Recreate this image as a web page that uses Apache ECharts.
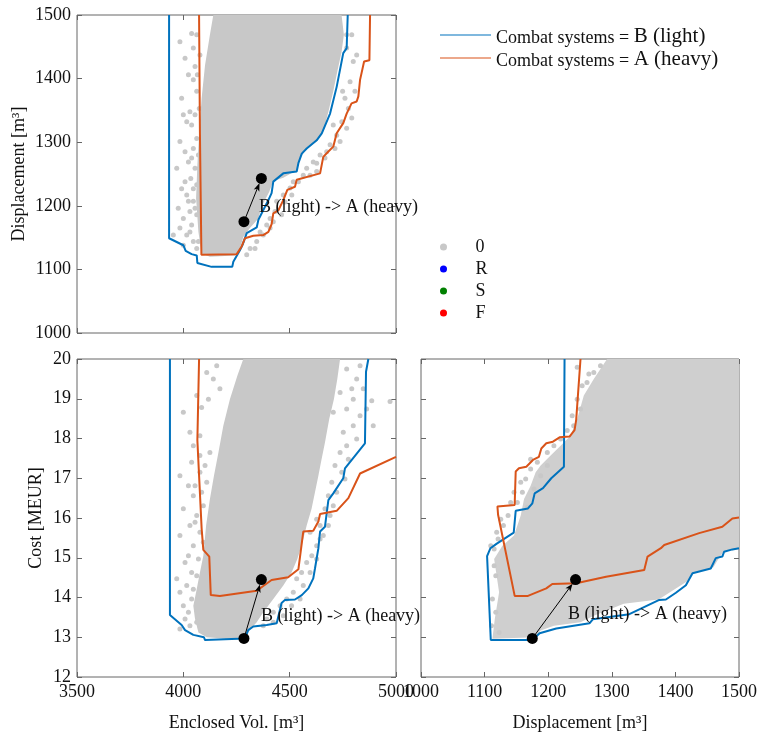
<!DOCTYPE html>
<html>
<head>
<meta charset="utf-8">
<script src="https://cdn.jsdelivr.net/npm/echarts@6/dist/echarts.min.js"></script>
<style>
  html, body { margin: 0; padding: 0; background: #fff; }
  #chart { width: 760px; height: 734px; }
</style>
</head>
<body>
<div id="chart"></div>
<script>
// boundary curves
// top-left: Enclosed Vol. vs Displacement
const blueTL = [[3933,1500],[3933,1149],[4000,1138],[4011,1129],[4039,1124],[4063,1122],[4066,1110],[4133,1104],[4230,1104],[4235,1112],[4266,1130],[4279,1139],[4298,1157],[4345,1166],[4353,1178],[4400,1209],[4415,1220],[4423,1238],[4470,1251],[4533,1254],[4541,1267],[4557,1282],[4580,1290],[4627,1303],[4651,1314],[4690,1345],[4721,1387],[4752,1440],[4768,1448],[4773,1500]];
const orangeTL = [[4074,1500],[4078,1314],[4085,1123],[4251,1124],[4274,1136],[4290,1149],[4329,1153],[4376,1154],[4400,1159],[4415,1171],[4423,1188],[4447,1193],[4470,1209],[4489,1225],[4525,1230],[4533,1241],[4643,1251],[4658,1277],[4681,1285],[4705,1293],[4721,1314],[4752,1330],[4768,1345],[4791,1361],[4815,1364],[4823,1372],[4831,1398],[4850,1427],[4875,1429],[4878,1500]];
// bottom-left: Enclosed Vol. vs Cost
const blueBL = [[3937,20],[3937,13.56],[3992,13.31],[4008,13.18],[4047,13.06],[4097,13.0],[4102,12.93],[4290,12.97],[4305,13.18],[4329,13.27],[4392,13.31],[4439,13.35],[4462,13.86],[4478,13.94],[4525,13.95],[4557,14.06],[4588,14.23],[4611,14.48],[4619,14.73],[4635,15.24],[4643,15.66],[4666,15.78],[4682,16.45],[4705,16.62],[4752,17.0],[4760,17.25],[4854,17.88],[4859,19.68],[4870,20]];
const orangeBL = [[4074,20],[4066,17.96],[4086,15.74],[4094,15.2],[4122,15.03],[4129,14.06],[4172,14.04],[4345,14.17],[4415,14.44],[4493,14.51],[4541,14.71],[4564,15.66],[4611,15.68],[4635,15.91],[4643,16.1],[4721,16.18],[4776,16.5],[4831,17.12],[5000,17.54]];
// bottom-right: Displacement vs Cost
const blueBR = [[1225.7,20],[1224.7,17.29],[1204.8,17.0],[1191.8,16.75],[1178.7,16.62],[1175.1,16.37],[1168.2,16.24],[1148.9,16.18],[1145.8,15.63],[1118.6,15.35],[1109.2,15.24],[1103.9,15.04],[1109.7,12.93],[1175.1,12.93],[1186.5,13.1],[1212.7,13.22],[1264.9,13.35],[1270.1,13.45],[1327.6,13.58],[1374.6,13.94],[1385.1,13.95],[1400.8,14.12],[1416.5,14.31],[1426.9,14.61],[1455.6,14.73],[1463.5,14.99],[1473.8,15.03],[1476.5,15.15],[1489.6,15.21],[1500,15.24]];
const orangeBR = [[1250.8,20],[1244,18.47],[1241.4,18.21],[1233.5,18.05],[1217.9,18.03],[1207.4,17.92],[1197,17.88],[1189.2,17.75],[1185.4,17.54],[1176,17.46],[1165.6,17.29],[1154,17.25],[1148.9,17.17],[1147.3,16.33],[1120.2,16.29],[1121.2,16.08],[1147.3,14.04],[1168.2,14.04],[1197,14.23],[1206.4,14.34],[1244,14.36],[1291,14.52],[1351,14.69],[1356.2,15.03],[1377.2,15.24],[1382.4,15.32],[1437.3,15.62],[1473.8,15.78],[1489.6,15.99],[1500,16.01]];

// outline of the dense gray cloud in each panel
const cloudTL = [[4141,1500],[4744,1500],[4755,1469],[4744,1442],[4724,1411],[4705,1380],[4682,1348],[4658,1317],[4627,1301],[4580,1290],[4549,1275],[4533,1256],[4470,1244],[4423,1239],[4404,1222],[4368,1199],[4353,1180],[4313,1165],[4282,1151],[4266,1133],[4243,1122],[4125,1120],[4086,1125],[4071,1159],[4060,1212],[4066,1264],[4075,1317],[4086,1369],[4102,1421],[4125,1469]];
const cloudBL = [[4282,20],[4737,20],[4724,19.5],[4708,18.99],[4686,18.49],[4666,17.9],[4650,17.48],[4635,17.06],[4619,16.65],[4603,16.23],[4580,15.81],[4556,15.3],[4536,14.97],[4509,14.63],[4470,14.3],[4423,13.96],[4376,13.63],[4345,13.38],[4313,13.19],[4290,13.0],[4204,12.96],[4110,13.0],[4071,13.12],[4055,13.46],[4047,13.79],[4060,14.13],[4078,14.63],[4094,15.05],[4107,15.81],[4125,16.48],[4144,17.06],[4165,17.65],[4188,18.32],[4219,18.99],[4254,19.58]];
const cloudBR = [[1292.6,20],[1500,20],[1500,15.22],[1475.5,15.15],[1467.6,14.97],[1459.8,14.76],[1428.5,14.63],[1418,14.4],[1373.6,13.95],[1318.7,13.84],[1271.7,13.54],[1250.8,13.38],[1209,13.29],[1188.1,13.17],[1180.3,13.0],[1112.3,12.96],[1116,13.46],[1122.8,14.13],[1115,14.97],[1128,15.3],[1146.3,15.56],[1156.8,16.06],[1162,16.48],[1172.4,16.81],[1180.3,17.15],[1188.1,17.32],[1203.8,17.57],[1219.5,17.82],[1235.1,18.07],[1245.6,18.49],[1256,19.08],[1271.7,19.5]];

// loose gray points outside the dense cloud
const outTL = [[4039,1471],[4055,1419],[4047,1398],[4063,1380],[4031,1348],[4055,1343],[4039,1327],[4063,1306],[4047,1290],[4024,1269],[4055,1259],[4035,1243],[4063,1233],[4016,1217],[4047,1207],[4031,1191],[4063,1186],[4000,1180],[4039,1170],[4016,1154],[4047,1144],[4063,1133],[3984,1165],[3969,1259],[4008,1238],[4071,1280],[4075,1353],[4066,1406],[4078,1437],
  [3984,1458],[4008,1432],[4024,1406],[3992,1369],[4016,1332],[3984,1301],[4008,1285],[4039,1275],[3992,1227],[4024,1207],[3976,1196],[4055,1196],[4031,1159],[4000,1138],[4071,1144],[3953,1154],[4078,1207],[4047,1227],[4075,1259],[4000,1343],[4063,1469],[4047,1448],
  [4768,1448],[4799,1427],[4784,1395],[4760,1369],[4776,1353],[4745,1332],[4721,1311],[4690,1296],[4643,1280],[4611,1269],[4580,1259],[4564,1248],[4517,1238],[4502,1228],[4470,1217],[4439,1207],[4431,1191],[4408,1180],[4392,1170],[4361,1159],[4345,1144],[4314,1133],[4768,1469],[4749,1380],[4705,1327],[4674,1285],[4627,1267],
  [4792,1469],[4815,1437],[4807,1380],[4792,1338],[4768,1322],[4737,1301],[4713,1290],[4666,1275],[4627,1254],[4596,1248],[4541,1238],[4510,1217],[4478,1206],[4462,1186],[4423,1175],[4408,1165],[4376,1154],[4337,1133],[4298,1123]];
const outBL = [[4157,19.83],[4141,19.5],[4118,18.99],[4086,18.78],[4172,19.25],[4031,18.16],[4078,18.07],[4125,17.65],[4039,17.4],[4078,17.15],[4110,16.9],[4047,16.56],[4094,16.31],[4063,16.06],[4031,15.81],[4078,15.64],[4047,15.3],[4024,15.05],[4071,14.97],[4039,14.63],[3969,14.47],[4016,14.3],[4047,14.21],[4000,13.79],[4008,13.46],[4031,13.29],[4078,17.57],[4055,16.81],[4102,17.32],
  [4110,19.66],[4063,19.08],[4000,18.66],[4047,17.82],[3984,17.06],[4024,16.81],[4086,16.65],[4000,16.23],[4055,15.89],[3984,15.56],[4094,15.39],[4008,14.88],[4063,14.55],[3984,14.13],[4039,13.96],[4024,13.63],[4063,13.38],[3984,13.21],
  [4768,19.75],[4815,19.5],[4846,19.25],[4799,18.99],[4886,18.95],[4768,18.74],[4831,18.57],[4799,18.32],[4752,18.16],[4768,17.82],[4737,17.65],[4713,17.32],[4745,17.15],[4698,16.9],[4721,16.65],[4682,16.56],[4666,16.23],[4690,16.06],[4643,15.81],[4658,15.56],[4627,15.3],[4604,15.05],[4580,14.88],[4556,14.63],[4533,14.47],[4517,14.13],[4486,13.96],[4455,13.79],[4423,13.63],[4392,13.46],[4596,15.64],[4627,15.97],[4705,18.66],[4737,19.16],[4972,18.93],
  [4831,19.83],[4792,19.25],[4862,18.74],[4815,17.99],[4776,17.48],[4760,16.98],[4705,16.31],[4682,15.81],[4643,15.47],[4627,14.97],[4596,14.63],[4564,14.3],[4549,13.96],[4509,13.79],[4470,13.54],[4423,13.38],[4376,13.29],[4893,18.32]];
const outBR = [[1263.9,19.62],[1253.4,19.33],[1245.6,18.99],[1237.7,18.57],[1229.9,18.2],[1209,17.82],[1198.6,17.65],[1182.9,17.4],[1172.4,17.23],[1164.6,16.98],[1159.4,16.65],[1151.5,16.39],[1136.9,16.06],[1129.6,15.81],[1121.2,15.47],[1115,15.22],[1117.6,14.55],[1112.3,13.96],[1110.8,13.29],[1198.6,17.32],[1188.1,17.06],[1177.7,16.73],[1167.2,16.27],[1245.6,19.79],[1282.2,19.83],
  [1271.7,19.66],[1261,19.41],[1250.8,18.74],[1240,18.32],[1219.5,17.99],[1172.4,17.48],[1156.8,16.9],[1146.3,16.65],[1141,16.39],[1125.4,15.97],[1119,15.64],[1109.7,15.3],[1115,14.8],[1117.6,13.63],[1122.8,13.12]];

// the B (light) -> A (heavy) design pair
const pairTL = [[4285,1175],[4367,1243]];
const pairBL = [[4285,12.97],[4367,14.45]];
const pairBR = [[1175,12.97],[1243,14.45]];

const volTicks = { min: 3500, max: 5000, interval: 500 };
const dispTicks = { min: 1000, max: 1500, interval: 100 };
const costTicks = { min: 12, max: 20, interval: 1 };

const BLUE = '#0072BD';
const ORANGE = '#D95319';
const GRAY = '#c8c8c8';
const FRAME = '#666';
const FONT = 'Liberation Serif';

const chart = echarts.init(document.getElementById('chart'));

function axis(ticks, gridIndex, position, showLabel, name, nameGap) {
  return {
    type: 'value', gridIndex: gridIndex, position: position,
    min: ticks.min, max: ticks.max, interval: ticks.interval,
    splitLine: { show: false },
    axisLine: { show: false },
    axisTick: { show: true, inside: true, length: 5, lineStyle: { color: FRAME } },
    axisLabel: {
      show: showLabel, color: '#111', fontSize: 18, fontFamily: FONT, margin: 6,
      showMinLabel: true, showMaxLabel: true, hideOverlap: false,
      formatter: function (v) { return String(v); }
    },
    name: name || '', nameLocation: 'middle', nameGap: nameGap || 0,
    nameTextStyle: { color: '#111', fontSize: 18, fontFamily: FONT }
  };
}

function cloud(pts, i, fill) {
  return {
    type: 'custom', name: 'cloud', xAxisIndex: i, yAxisIndex: i, data: pts, z: 1, silent: true, clip: true,
    renderItem: function (params, api) {
      if (params.dataIndex !== 0) return null;
      return {
        type: 'polygon',
        shape: { points: pts.map(function (p) { return api.coord(p); }) },
        style: { fill: fill }
      };
    }
  };
}

function loose(pts, i) {
  return { type: 'scatter', name: '0', xAxisIndex: i, yAxisIndex: i, data: pts, symbolSize: 5, itemStyle: { color: GRAY, opacity: 1 }, z: 2, silent: true };
}

function edge(name, pts, color, i) {
  return { type: 'line', name: name, xAxisIndex: i, yAxisIndex: i, data: pts, symbol: 'none', lineStyle: { color: color, width: 2 }, itemStyle: { color: color }, z: 3, silent: true };
}

// thin arrow B -> A; the head stops at the rim of the A marker
function arrow(pts, i) {
  return {
    type: 'custom', name: 'arrow', xAxisIndex: i, yAxisIndex: i, data: pts, z: 4, silent: true,
    renderItem: function (params, api) {
      if (params.dataIndex !== 1) return null;
      const p0 = api.coord(pts[0]);
      const p1 = api.coord(pts[1]);
      const dx = p1[0] - p0[0], dy = p1[1] - p0[1];
      const len = Math.sqrt(dx * dx + dy * dy);
      const ux = dx / len, uy = dy / len, nx = -uy, ny = ux;
      const tip = [p1[0] - ux * 5, p1[1] - uy * 5];
      const back = [tip[0] - ux * 8, tip[1] - uy * 8];
      return {
        type: 'group',
        children: [
          { type: 'line', shape: { x1: p0[0], y1: p0[1], x2: tip[0] - ux * 3, y2: tip[1] - uy * 3 }, style: { stroke: '#000', lineWidth: 1 } },
          { type: 'polygon', shape: { points: [tip, [back[0] + nx * 3, back[1] + ny * 3], [back[0] + ux * 2, back[1] + uy * 2], [back[0] - nx * 3, back[1] - ny * 3]] }, style: { fill: '#000' } }
        ]
      };
    }
  };
}

function pair(pts, i) {
  return { type: 'scatter', name: 'pair', xAxisIndex: i, yAxisIndex: i, data: pts, symbolSize: 11, itemStyle: { color: '#000', opacity: 1 }, z: 5, silent: true };
}

const legendRich = {
  a: { fontSize: 18, fontFamily: FONT, color: '#111', verticalAlign: 'bottom', lineHeight: 24 },
  b: { fontSize: 21, fontFamily: FONT, color: '#111', verticalAlign: 'bottom', lineHeight: 24 }
};

const option = {
  animation: false,
  textStyle: { fontFamily: FONT },
  grid: [
    { left: 77, top: 15, width: 319, height: 318, show: true, borderColor: FRAME, borderWidth: 1 },
    { left: 77, top: 359, width: 319, height: 318, show: true, borderColor: FRAME, borderWidth: 1 },
    { left: 421, top: 359, width: 319, height: 318, show: true, borderColor: FRAME, borderWidth: 1 }
  ],
  xAxis: [
    axis(volTicks, 0, 'bottom', false),
    axis(volTicks, 1, 'bottom', true, 'Enclosed Vol. [m³]', 37),
    axis(dispTicks, 2, 'bottom', true, 'Displacement [m³]', 37),
    axis(volTicks, 0, 'top', false),
    axis(volTicks, 1, 'top', false),
    axis(dispTicks, 2, 'top', false)
  ],
  yAxis: [
    axis(dispTicks, 0, 'left', true, 'Displacement [m³]', 49),
    axis(costTicks, 1, 'left', true, 'Cost [MEUR]', 32),
    axis(costTicks, 2, 'left', false),
    axis(dispTicks, 0, 'right', false),
    axis(costTicks, 1, 'right', false),
    axis(costTicks, 2, 'right', false)
  ],
  legend: [
    {
      data: ['B'], left: 440, top: 26, padding: 0, icon: 'rect', itemWidth: 51, itemHeight: 1,
      formatter: function () { return '{a|Combat systems = }{b|B (light)}'; },
      textStyle: { rich: legendRich }
    },
    {
      data: ['A'], left: 440, top: 49, padding: 0, icon: 'rect', itemWidth: 51, itemHeight: 1,
      formatter: function () { return '{a|Combat systems = }{b|A (heavy)}'; },
      textStyle: { rich: legendRich }
    },
    {
      data: ['0', 'R', 'S', 'F'], orient: 'vertical', left: 440, top: 238, padding: 0, icon: 'circle',
      itemWidth: 54, itemHeight: 7, itemGap: 4,
      textStyle: { fontSize: 18, lineHeight: 18, fontFamily: FONT, color: '#111' }
    }
  ],
  graphic: [
    { type: 'text', z: 100, left: 259, top: 198, style: { text: 'B (light) -> A (heavy)', font: '18px "Liberation Serif"', fill: '#111' } },
    { type: 'text', z: 100, left: 261, top: 607, style: { text: 'B (light) -> A (heavy)', font: '18px "Liberation Serif"', fill: '#111' } },
    { type: 'text', z: 100, left: 568, top: 605, style: { text: 'B (light) -> A (heavy)', font: '18px "Liberation Serif"', fill: '#111' } }
  ],
  series: [
    cloud(cloudTL, 0, GRAY), cloud(cloudBL, 1, GRAY), cloud(cloudBR, 2, '#cfcfcf'),
    loose(outTL, 0), loose(outBL, 1), loose(outBR, 2),
    edge('B', blueTL, BLUE, 0), edge('A', orangeTL, ORANGE, 0),
    edge('B', blueBL, BLUE, 1), edge('A', orangeBL, ORANGE, 1),
    edge('B', blueBR, BLUE, 2), edge('A', orangeBR, ORANGE, 2),
    arrow(pairTL, 0), arrow(pairBL, 1), arrow(pairBR, 2),
    pair(pairTL, 0), pair(pairBL, 1), pair(pairBR, 2),
    { type: 'scatter', name: 'R', data: [], itemStyle: { color: '#0000ff', opacity: 1 } },
    { type: 'scatter', name: 'S', data: [], itemStyle: { color: '#008000', opacity: 1 } },
    { type: 'scatter', name: 'F', data: [], itemStyle: { color: '#ff0000', opacity: 1 } }
  ]
};

chart.setOption(option);
</script>
</body>
</html>
